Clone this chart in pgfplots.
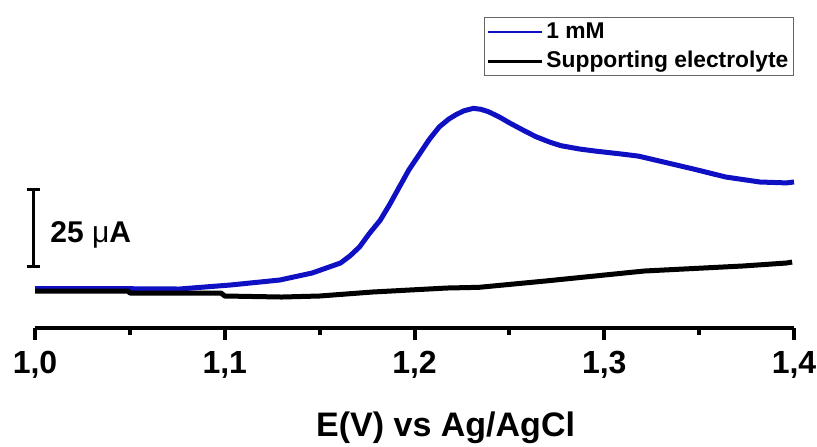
\documentclass[border=0pt]{standalone}
\usepackage{fontspec}
\setmainfont{Liberation Sans}
\usepackage{pgfplots}
\pgfplotsset{compat=1.18}
\definecolor{cvblue}{RGB}{15,15,195}
\begin{document}
\begin{tikzpicture}
\useasboundingbox (-17.5pt,-59pt) rectangle (391pt,164pt);
\begin{axis}[
  at={(0pt,0pt)}, anchor=south west,
  scale only axis, width=379.5pt, height=164pt,
  xmin=1.0, xmax=1.4, ymin=-12.01, ymax=94.48,
  axis x line=bottom, axis y line=none,
  x axis line style={-, line width=2pt},
  xtick={1.0,1.1,1.2,1.3,1.4},
  minor xtick={1.05,1.15,1.25,1.35},
  tick align=outside,
  major tick length=6pt, minor tick length=3.5pt,
  every tick/.style={black, line width=2pt},
  /pgf/number format/.cd, fixed, fixed zerofill, precision=1, use comma, assume math mode=true,
  /pgfplots/.cd,
  xticklabel style={font=\fontsize{16}{19}\selectfont\bfseries, yshift=-2pt},
  xlabel={E(V) vs Ag/AgCl},
  x label style={font=\fontsize{17}{20}\selectfont\bfseries, at={(axis description cs:0.541,0)}, anchor=base, yshift=-54pt},
  legend style={at={(axis description cs:1,0.948)}, anchor=north east, draw=black!60, line width=0.6pt,
    font=\fontsize{11.4}{13}\selectfont\bfseries, inner xsep=1pt, inner ysep=1pt, row sep=2pt,
    nodes={inner sep=1.5pt}, cells={anchor=west}},
  legend image code/.code={\draw[#1, line width=1.4pt] (0pt,0pt) -- (27pt,0pt);},
  clip=false,
]
\addplot[cvblue, line width=2.5pt, line join=round] coordinates {
(1.000,0.8) (1.034,0.8) (1.076,0.65) (1.103,1.95) (1.129,3.57) (1.146,5.84)
(1.161,9.09) (1.166,11.4) (1.171,14.29) (1.176,18.5) (1.182,23.05) (1.187,28.2)
(1.192,33.77) (1.197,39.3) (1.203,44.81) (1.208,49.4) (1.213,53.25) (1.218,55.8)
(1.222,57.3) (1.226,58.5) (1.231,59.3) (1.235,59.0) (1.239,58.2) (1.245,56.4)
(1.250,54.6) (1.257,52.3) (1.264,50.1) (1.271,48.4) (1.277,47.2) (1.287,46.1) (1.295,45.45)
(1.309,44.48) (1.318,43.8) (1.329,42.21) (1.347,39.61) (1.364,37.01) (1.382,35.39)
(1.396,35.1) (1.400,35.4)
};
\addlegendentry{1 mM}
\addplot[black, line width=2.5pt, line join=round] coordinates {
(1.000,0.0) (1.049,0.0) (1.050,-0.65) (1.098,-0.65) (1.100,-1.62) (1.130,-1.95)
(1.150,-1.62) (1.178,-0.32) (1.217,0.97) (1.234,1.2) (1.269,3.25) (1.321,6.49)
(1.373,8.12) (1.396,9.09) (1.399,9.4)
};
\addlegendentry{Supporting electrolyte}
\draw[line width=1.5pt] (axis cs:0.99895,7.8) -- (axis cs:0.99895,32.8);
\draw[line width=1.5pt] ([xshift=-3.25pt]axis cs:0.99895,7.8) -- ([xshift=3.25pt]axis cs:0.99895,7.8);
\draw[line width=1.5pt] ([xshift=-3.25pt]axis cs:0.99895,32.8) -- ([xshift=3.25pt]axis cs:0.99895,32.8);
\node[anchor=base west, font=\fontsize{15}{18}\selectfont\bfseries, inner sep=0pt] at (axis cs:1.0079,15.6) {25 {\mdseries μ}A};
\end{axis}
\end{tikzpicture}
\end{document}
